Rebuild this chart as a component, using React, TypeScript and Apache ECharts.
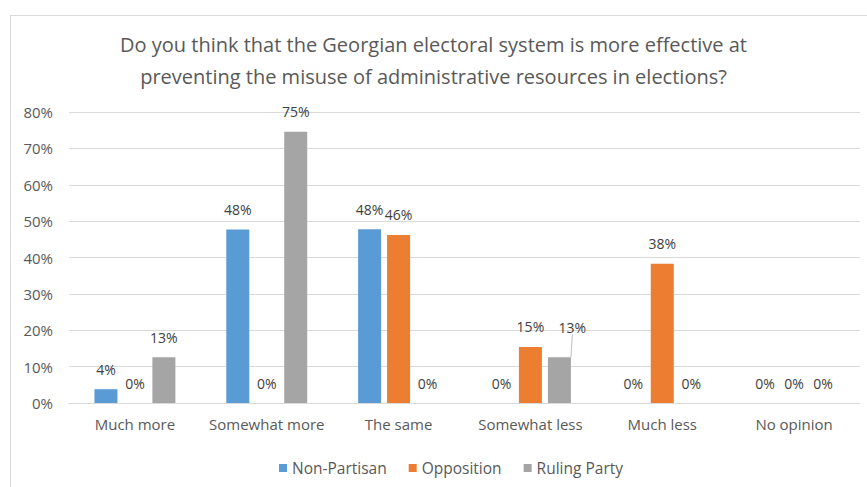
import React, { useEffect, useRef } from "react";
import * as echarts from "echarts";

const categories = ["Much more", "Somewhat more", "The same", "Somewhat less", "Much less", "No opinion"];
const nonPartisan = [3.8, 47.7, 47.8, 0, 0, 0];
const opposition = [0, 0, 46.2, 15.4, 38.3, 0];
const rulingParty = [12.6, 74.6, 0, 12.6, 0, 0];
const seriesNames = ["Non-Partisan", "Opposition", "Ruling Party"];
const colors = ["#5B9BD5", "#ED7D31", "#A5A5A5"];
const titleText = "Do you think that the Georgian electoral system is more effective at\npreventing the misuse of administrative resources in elections?";

const FONT = "'Open Sans', sans-serif";

export default function App() {
  const ref = useRef<HTMLDivElement>(null);
  useEffect(() => {
    if (!ref.current) return;
    const chart = echarts.init(ref.current, null, { renderer: "svg" });
    const data = [nonPartisan, opposition, rulingParty];
    chart.setOption({
      animation: false,
      backgroundColor: "#ffffff",
      title: {
        text: titleText,
        left: "center",
        top: 23,
        textStyle: { fontFamily: FONT, fontSize: 20, fontWeight: "normal", color: "#595959", lineHeight: 32 },
      },
      legend: {
        top: 455,
        left: 274,
        itemWidth: 8,
        itemHeight: 8,
        itemGap: 22,
        icon: "rect",
        textStyle: { fontFamily: FONT, fontSize: 15.5, color: "#595959" },
        data: seriesNames,
      },
      grid: { left: 69, right: 7, top: 112, bottom: 84 },
      xAxis: {
        type: "category",
        data: categories,
        axisLine: { lineStyle: { color: "#d9d9d9" } },
        axisTick: { show: false },
        axisLabel: { interval: 0, fontFamily: FONT, fontSize: 15, color: "#595959", margin: 13 },
      },
      yAxis: {
        type: "value",
        min: 0,
        max: 80,
        interval: 10,
        axisLabel: { formatter: "{value}%", fontFamily: FONT, fontSize: 15, color: "#595959", margin: 16 },
        splitLine: { lineStyle: { color: "#d9d9d9" } },
        axisLine: { show: false },
        axisTick: { show: false },
      },
      series: data.map((d, i) => ({
        name: seriesNames[i],
        type: "bar",
        data: d.map((v, j) =>
          i === 2 && j === 3
            ? { value: v, labelLine: { show: true, lineStyle: { color: "#bfbfbf", width: 1 } } }
            : v
        ),
        barWidth: 23,
        barGap: "26%",
        itemStyle: { color: colors[i] },
        label: {
          show: true,
          position: "top",
          distance: 13,
          formatter: (p: any) => Math.round(p.value) + "%",
          fontFamily: FONT,
          fontSize: 14,
          color: "#404040",
        },
        labelLine: { show: false },
        labelLayout: (p: any) =>
          i === 2 && p.dataIndex === 3 ? { dx: 13, dy: -10 } : {},
      })),
      graphic: [
        { type: "line", shape: { x1: 10, y1: 15.5, x2: 867, y2: 15.5 }, style: { stroke: "#d9d9d9", lineWidth: 1 } },
        { type: "line", shape: { x1: 10.5, y1: 15, x2: 10.5, y2: 487 }, style: { stroke: "#d9d9d9", lineWidth: 1 } },
      ],
    });
    return () => chart.dispose();
  }, []);
  return <div ref={ref} style={{ position: "fixed", left: 0, top: 0, width: 867, height: 487 }} />;
}
